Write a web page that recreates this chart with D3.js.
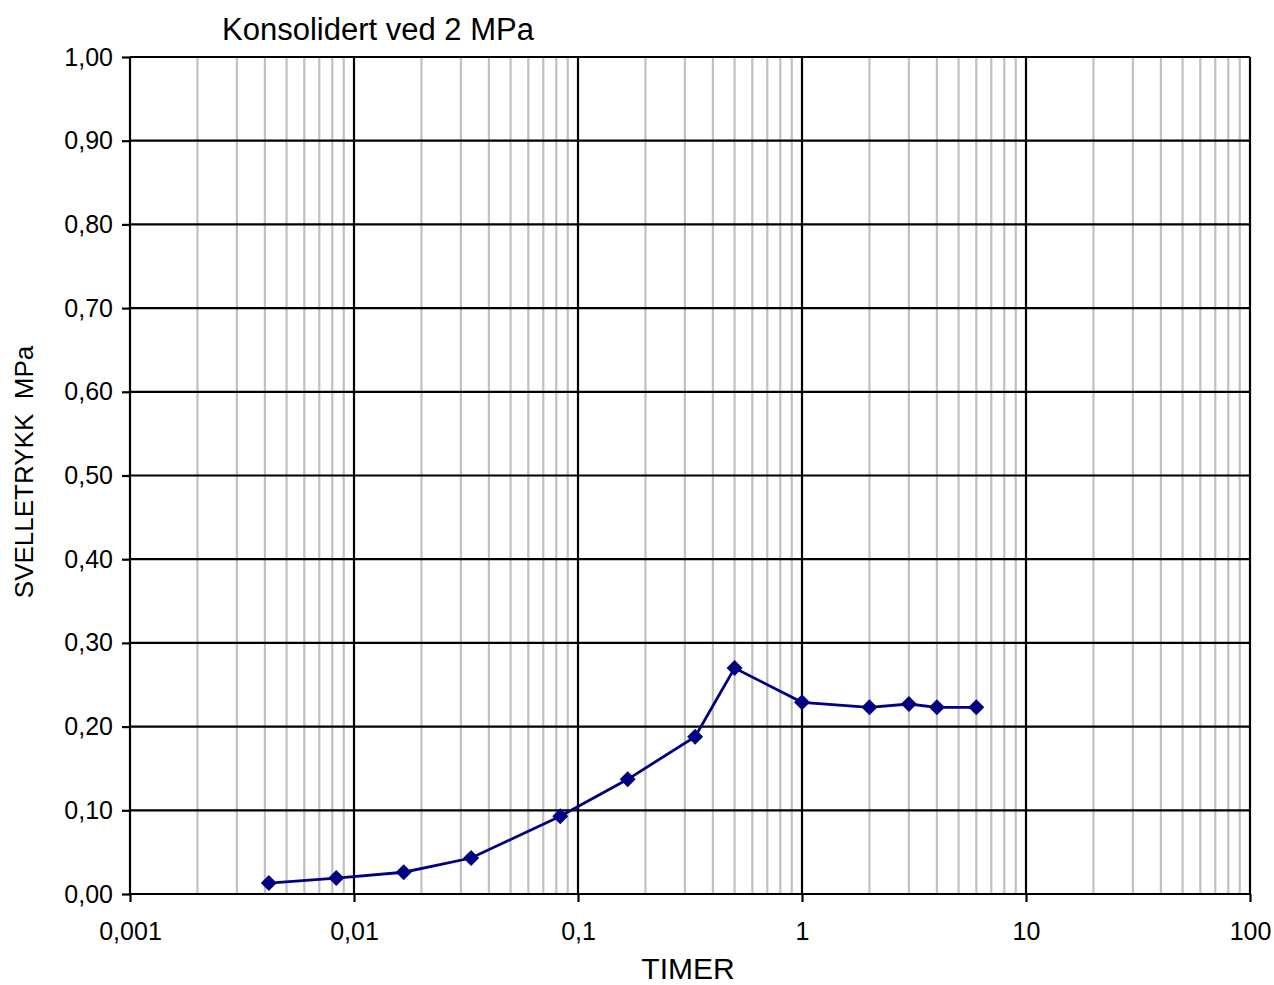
<!DOCTYPE html>
<html>
<head>
<meta charset="utf-8">
<title>Konsolidert ved 2 MPa</title>
<script src="https://cdn.jsdelivr.net/npm/d3@7"></script>
<style>
  body {margin: 0; background: #fff;}
  text {font-family: "Liberation Sans", Arial, sans-serif; fill: #000;}
</style>
</head>
<body>
<svg id="chart" width="1274" height="985"></svg>
<script>
// data (time in hours, swelling pressure in MPa)
var timer = [0.25/60, 0.5/60, 1/60, 2/60, 5/60, 10/60, 20/60, 0.5, 1, 2, 3, 4, 6];
var svelletrykk = [0.013, 0.019, 0.026, 0.043, 0.093, 0.137, 0.188, 0.270, 0.229, 0.223, 0.227, 0.223, 0.223];
var xTicks = [0.001, 0.01, 0.1, 1, 10, 100];
var xTickLabels = ["0,001", "0,01", "0,1", "1", "10", "100"];
var yTicks = [0, 0.1, 0.2, 0.3, 0.4, 0.5, 0.6, 0.7, 0.8, 0.9, 1.0];

var svg = d3.select("#chart");
var pLeft = 130, pRight = 1250, pTop = 57, pBottom = 894;

var x = d3.scaleLog().domain([0.001, 100]).range([pLeft, pRight]);
var y = d3.scaleLinear().domain([0, 1]).range([pBottom, pTop]);

// minor grid
var minor = [];
for (var e = -3; e < 2; e++) {
  for (var m = 2; m <= 9; m++) minor.push(m * Math.pow(10, e));
}
svg.append("g").selectAll("line").data(minor).enter().append("line")
  .attr("x1", d => x(d)).attr("x2", d => x(d))
  .attr("y1", pTop).attr("y2", pBottom)
  .attr("stroke", "#c0c0c0").attr("stroke-width", 2.2);

// major grid
svg.append("g").selectAll("line").data(yTicks).enter().append("line")
  .attr("x1", pLeft).attr("x2", pRight)
  .attr("y1", d => y(d)).attr("y2", d => y(d))
  .attr("stroke", "#000").attr("stroke-width", 2.2);
svg.append("g").selectAll("line").data(xTicks).enter().append("line")
  .attr("x1", d => x(d)).attr("x2", d => x(d))
  .attr("y1", pTop).attr("y2", pBottom)
  .attr("stroke", "#000").attr("stroke-width", 2.2);

// axes
var xAxis = d3.axisBottom(x).tickValues(xTicks)
  .tickFormat((d, i) => xTickLabels[i]).tickSize(8).tickPadding(20);
var gx = svg.append("g").attr("transform", "translate(0," + pBottom + ")").call(xAxis);
var yAxis = d3.axisLeft(y).tickValues(yTicks)
  .tickFormat(d => d3.format(".2f")(d).replace(".", ",")).tickSize(8).tickPadding(9);
var gy = svg.append("g").attr("transform", "translate(" + pLeft + ",0)").call(yAxis);
[gx, gy].forEach(function (g) {
  g.attr("font-family", null).attr("font-size", null);
  g.select(".domain").remove();
  g.selectAll(".tick line").attr("stroke", "#000").attr("stroke-width", 2.2);
  g.selectAll(".tick text").style("font-size", "25px");
});

// series
var pts = timer.map((t, i) => [t, svelletrykk[i]]);
svg.append("path").datum(pts)
  .attr("d", d3.line().x(d => x(d[0])).y(d => y(d[1])))
  .attr("fill", "none").attr("stroke", "#000080").attr("stroke-width", 2.8);
svg.append("g").selectAll("path").data(pts).enter().append("path")
  .attr("d", "M0,-8L8,0L0,8L-8,0Z")
  .attr("transform", d => "translate(" + x(d[0]) + "," + y(d[1]) + ")")
  .attr("fill", "#000080");

// titles
svg.append("text").attr("x", 222).attr("y", 40).style("font-size", "31px")
  .text("Konsolidert ved 2 MPa");
svg.append("text").attr("x", 688).attr("y", 979)
  .attr("text-anchor", "middle").style("font-size", "30px").text("TIMER");
svg.append("text").attr("transform", "translate(33,472) rotate(-90)")
  .attr("text-anchor", "middle").style("font-size", "26px")
  .style("white-space", "pre").text("SVELLETRYKK  MPa");
</script>
</body>
</html>
